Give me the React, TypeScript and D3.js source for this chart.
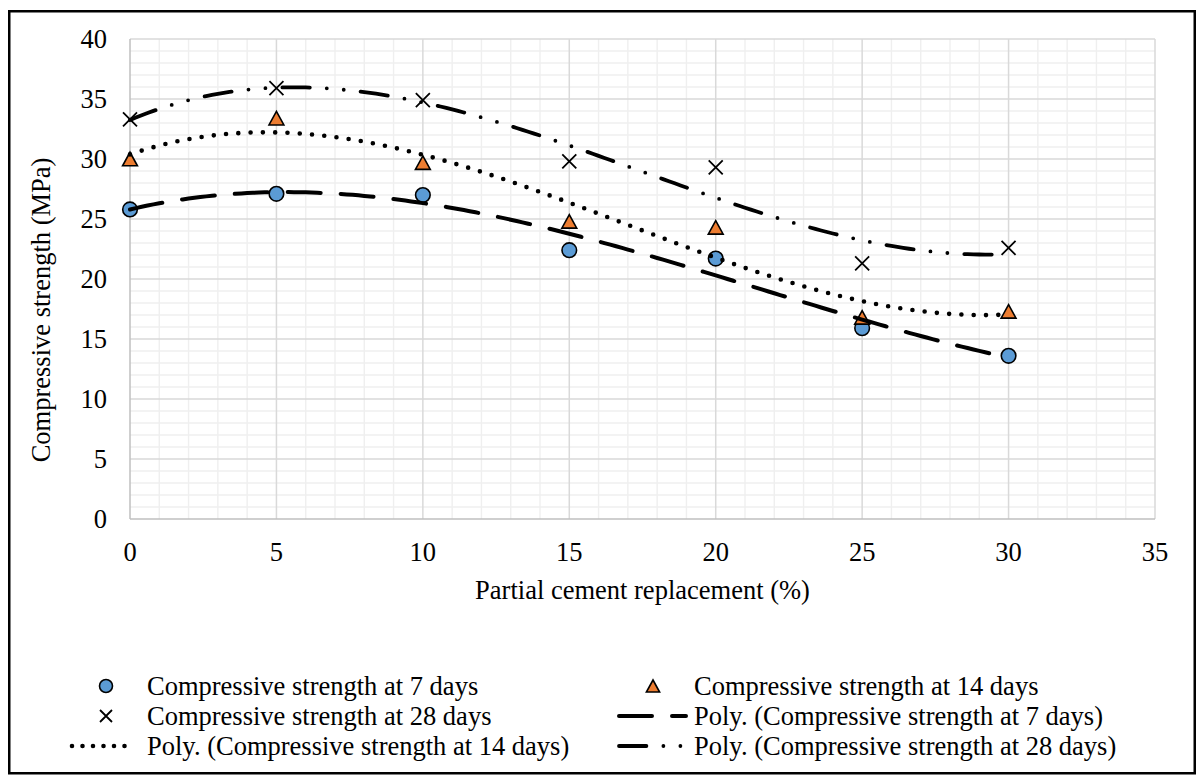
import { useEffect, useRef } from 'react';
import * as d3 from 'd3';

// values
const replacement = [0, 5, 10, 15, 20, 25, 30];
const strength7 = [25.8, 27.1, 27.0, 22.4, 21.7, 15.9, 13.6];
const strength14 = [30.0, 33.4, 29.7, 24.8, 24.3, 16.8, 17.3];
const strength28 = [33.3, 35.9, 34.9, 29.8, 29.3, 21.3, 22.6];
const xTicks = [0, 5, 10, 15, 20, 25, 30, 35];
const yTicks = [0, 5, 10, 15, 20, 25, 30, 35, 40];
const xTitle = 'Partial cement replacement (%)';
const yTitle = 'Compressive strength (MPa)';
const legendLabels = [
  'Compressive strength at 7 days',
  'Compressive strength at 14 days',
  'Compressive strength at 28 days',
  'Poly. (Compressive strength at 7 days)',
  'Poly. (Compressive strength at 14 days)',
  'Poly. (Compressive strength at 28 days)',
];

const FONT = '"Liberation Serif", "Times New Roman", serif';
const FS = 26.5;

// least squares polynomial, same as an Excel "Poly." trendline
function polyFit(xs: number[], ys: number[], order: number) {
  const n = order + 1;
  const A: number[][] = [];
  for (let r = 0; r < n; r++) {
    const row: number[] = [];
    for (let c = 0; c < n; c++) row.push(d3.sum(xs, x => Math.pow(x, r + c)));
    row.push(d3.sum(xs.map((x, i) => ys[i] * Math.pow(x, r))));
    A.push(row);
  }
  for (let i = 0; i < n; i++) {
    let p = i;
    for (let k = i + 1; k < n; k++) if (Math.abs(A[k][i]) > Math.abs(A[p][i])) p = k;
    [A[i], A[p]] = [A[p], A[i]];
    for (let k = i + 1; k < n; k++) {
      const f = A[k][i] / A[i][i];
      for (let j = i; j <= n; j++) A[k][j] -= f * A[i][j];
    }
  }
  const coef = new Array(n).fill(0);
  for (let i = n - 1; i >= 0; i--) {
    let s = A[i][n];
    for (let j = i + 1; j < n; j++) s -= A[i][j] * coef[j];
    coef[i] = s / A[i][i];
  }
  return (x: number) => coef.reduce((acc, c, i) => acc + c * Math.pow(x, i), 0);
}

export default function App() {
  const ref = useRef<SVGSVGElement>(null);

  useEffect(() => {
    document.body.style.margin = '0';
    if (!ref.current) return;
    const svg = d3.select(ref.current);
    svg.selectAll('*').remove();

    const x = d3.scaleLinear().domain([0, 35]).range([130, 1155]);
    const y = d3.scaleLinear().domain([0, 40]).range([519, 39]);

    // outer frame
    svg.append('rect')
      .attr('x', 9.25).attr('y', 11.25)
      .attr('width', 1185.5).attr('height', 762)
      .attr('fill', '#fff').attr('stroke', '#000').attr('stroke-width', 2.5);

    // minor grid
    const g = svg.append('g');
    d3.range(0, 36).filter(v => v % 5 !== 0).forEach(v => {
      g.append('line').attr('x1', x(v)).attr('x2', x(v)).attr('y1', y(0)).attr('y2', y(40))
        .attr('stroke', '#efefef').attr('stroke-width', 1.4);
    });
    d3.range(0, 41).filter(v => v % 5 !== 0).forEach(v => {
      g.append('line').attr('x1', x(0)).attr('x2', x(35)).attr('y1', y(v)).attr('y2', y(v))
        .attr('stroke', '#efefef').attr('stroke-width', 1.4);
    });
    // major grid
    xTicks.filter(v => v > 0).forEach(v => {
      g.append('line').attr('x1', x(v)).attr('x2', x(v)).attr('y1', y(0)).attr('y2', y(40))
        .attr('stroke', '#d9d9d9').attr('stroke-width', 1.5);
    });
    yTicks.filter(v => v > 0).forEach(v => {
      g.append('line').attr('x1', x(0)).attr('x2', x(35)).attr('y1', y(v)).attr('y2', y(v))
        .attr('stroke', '#d9d9d9').attr('stroke-width', 1.5);
    });
    // axis lines
    g.append('line').attr('x1', x(0)).attr('x2', x(35)).attr('y1', y(0)).attr('y2', y(0))
      .attr('stroke', '#bfbfbf').attr('stroke-width', 1.5);
    g.append('line').attr('x1', x(0)).attr('x2', x(0)).attr('y1', y(0)).attr('y2', y(40))
      .attr('stroke', '#bfbfbf').attr('stroke-width', 1.5);

    // tick labels and titles
    const txt = svg.append('g').attr('font-family', FONT).attr('font-size', FS).attr('fill', '#000');
    yTicks.forEach(v => {
      txt.append('text').attr('x', 107).attr('y', y(v) + 8.8).attr('text-anchor', 'end').text(v);
    });
    xTicks.forEach(v => {
      txt.append('text').attr('x', x(v)).attr('y', 561).attr('text-anchor', 'middle').text(v);
    });
    txt.append('text').attr('x', (x(0) + x(35)) / 2).attr('y', 599).attr('text-anchor', 'middle').text(xTitle);
    txt.append('text').attr('transform', 'translate(50,310) rotate(-90)').attr('text-anchor', 'middle').text(yTitle);

    // marker shapes
    const circle = (sel: any, cx: number, cy: number, r: number) =>
      sel.append('circle').attr('cx', cx).attr('cy', cy).attr('r', r)
        .attr('fill', '#5B9BD5').attr('stroke', '#000').attr('stroke-width', 1.6);
    const triangle = (sel: any, cx: number, cy: number, s: number) =>
      sel.append('path')
        .attr('d', `M${cx},${cy - s * 0.5}L${cx + s * 0.55},${cy + s * 0.5}L${cx - s * 0.55},${cy + s * 0.5}Z`)
        .attr('fill', '#ED7D31').attr('stroke', '#000').attr('stroke-width', 1.6).attr('stroke-linejoin', 'miter');
    const cross = (sel: any, cx: number, cy: number, s: number) =>
      sel.append('path')
        .attr('d', `M${cx - s},${cy - s}L${cx + s},${cy + s}M${cx - s},${cy + s}L${cx + s},${cy - s}`)
        .attr('stroke', '#000').attr('stroke-width', 1.8).attr('fill', 'none');

    const marks = svg.append('g');
    replacement.forEach((v, i) => circle(marks, x(v), y(strength7[i]), 7.3));
    replacement.forEach((v, i) => triangle(marks, x(v), y(strength14[i]), 13.5));
    replacement.forEach((v, i) => cross(marks, x(v), y(strength28[i]), 7));

    // trendlines (drawn over the markers, as in the reference)
    const trendStyles = [
      { data: strength7, width: 4, dash: '33 20' },
      { data: strength14, width: 4.6, dash: '0 12.3' },
      { data: strength28, width: 3.8, dash: '27.4 17 0 17 0 17' },
    ];
    const xs = d3.range(0, 30.0001, 0.2);
    const line = d3.line<[number, number]>().x(d => x(d[0])).y(d => y(d[1]));
    trendStyles.forEach(t => {
      const f = polyFit(replacement, t.data, 3);
      svg.append('path')
        .attr('d', line(xs.map(v => [v, f(v)] as [number, number])))
        .attr('fill', 'none').attr('stroke', '#000')
        .attr('stroke-width', t.width).attr('stroke-linecap', 'round')
        .attr('stroke-dasharray', t.dash);
    });

    // legend
    const leg = svg.append('g').attr('font-family', FONT).attr('font-size', FS);
    const cols = [{ mx: 106, l0: 72, l1: 135, tx: 147 }, { mx: 653, l0: 619, l1: 686, tx: 694 }];
    const rows = [686, 716, 746];
    legendLabels.forEach((label, i) => {
      const c = cols[i % 2];
      const cy = rows[Math.floor(i / 2)];
      if (i === 0) circle(leg, c.mx, cy, 6.5);
      if (i === 1) triangle(leg, c.mx, cy, 12);
      if (i === 2) cross(leg, c.mx, cy, 6);
      if (i >= 3) {
        const t = trendStyles[i - 3];
        leg.append('line').attr('x1', c.l0).attr('x2', c.l1).attr('y1', cy).attr('y2', cy)
          .attr('stroke', '#000').attr('stroke-width', t.width).attr('stroke-linecap', 'round')
          .attr('stroke-dasharray', i === 4 ? '0 10.5' : t.dash);
      }
      leg.append('text').attr('x', c.tx).attr('y', cy + 8.8).text(label);
    });
  }, []);

  return <svg ref={ref} width={1202} height={778} style={{ display: 'block', background: '#fff' }} />;
}
